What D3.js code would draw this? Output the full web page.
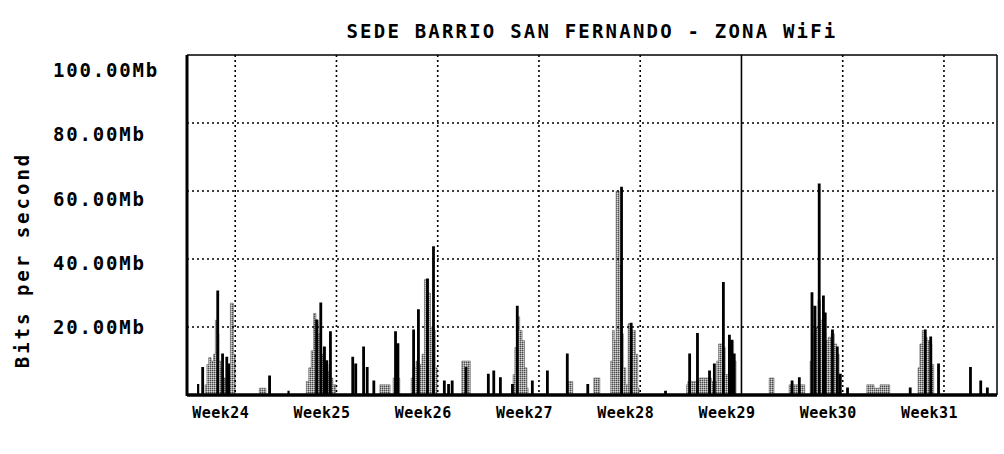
<!DOCTYPE html>
<html>
<head>
<meta charset="utf-8">
<script src="https://cdn.jsdelivr.net/npm/d3@7"></script>
<style>
  body { margin: 0; background: #fff; }
  text { font-family: "DejaVu Sans Mono", monospace; font-weight: bold; fill: #000; }
</style>
</head>
<body>
<div id="chart"></div>
<script>
// chart values (hours from graph start, Mb per second)
var chartTitle = "SEDE BARRIO SAN FERNANDO - ZONA WiFi";
var yLabel = "Bits per second";
var weekLabels = ["Week24", "Week25", "Week26", "Week27", "Week28", "Week29", "Week30", "Week31"];
var yTicks = [20, 40, 60, 80, 100];
var weekStarts = [80, 248, 416, 584, 752, 920, 1088, 1256];
var monthLine = 920;

// incoming traffic (gray area)
var inTraffic = [
  [0, 0], [30, 3], [33, 9], [36, 11], [40, 10], [44, 12], [47, 22], [50, 18], [53, 10], [56, 8], [60, 5], [64, 3],
  [69, 6], [72, 27], [77, 12], [80, 0],
  [120, 2], [131, 0],
  [198, 4], [202, 8], [206, 13], [210, 24], [214, 22], [218, 18], [222, 12], [226, 14], [230, 9], [234, 7],
  [238, 5], [242, 3], [247, 0],
  [320, 3], [337, 0], [342, 5], [353, 0],
  [372, 5], [375, 8], [380, 10], [385, 9], [390, 12], [394, 34], [401, 30], [404, 20], [409, 19], [412, 8], [415, 0],
  [456, 10], [470, 0],
  [541, 6], [544, 14], [548, 23], [552, 19], [556, 16], [560, 8], [564, 2], [566, 0],
  [630, 4], [640, 0], [675, 5], [685, 0],
  [703, 10], [706, 19], [709, 16], [712, 60], [717, 38], [720, 18], [724, 8], [728, 3], [732, 21], [738, 19],
  [744, 12], [748, 2], [750, 0],
  [829, 3], [831, 4], [850, 5], [870, 4], [879, 10], [882, 15], [890, 14], [893, 6], [899, 12], [903, 16], [907, 10], [911, 0],
  [966, 5], [974, 0], [999, 3], [1025, 0],
  [1034, 10], [1037, 18], [1043, 20], [1047, 28], [1051, 22], [1055, 18], [1059, 16], [1064, 17], [1069, 18],
  [1074, 15], [1078, 12], [1082, 5], [1084, 0],
  [1128, 3], [1140, 2], [1150, 3], [1166, 0],
  [1213, 8], [1216, 15], [1220, 19], [1224, 17], [1228, 16], [1232, 15], [1236, 9], [1239, 0],
  [1344, 0]
];

// outgoing traffic (black line)
var outTraffic = [
  [0, 0], [18, 3], [19, 0], [25, 8], [27, 0], [50, 30.5], [52, 0], [58, 12], [60, 0], [65, 11], [67, 0], [68, 9], [70, 0],
  [136, 5.5], [138, 0], [168, 1], [169, 0],
  [214, 22], [216, 0], [221, 27], [223, 0], [227, 14], [229, 0], [231, 10], [233, 0], [237, 18.5], [239, 0],
  [274, 11], [276, 0], [279, 9], [281, 0], [292, 14], [294, 0], [298, 8], [300, 0], [309, 4], [311, 0],
  [345, 18.5], [347, 0], [349, 15], [351, 0],
  [375, 19], [377, 0], [383, 25], [385, 0], [398, 34], [400, 0], [408, 43.5], [410, 0],
  [426, 4], [428, 0], [433, 3], [435, 0], [439, 4], [441, 0], [462, 8], [464, 0],
  [499, 6], [501, 0], [508, 7], [510, 0], [519, 5], [521, 0],
  [539, 3], [541, 0], [547, 26], [549, 0], [572, 4], [574, 0], [597, 7], [599, 0], [630, 12], [632, 0], [664, 3], [666, 0],
  [720, 61], [722, 0], [736, 21], [738, 0], [793, 1], [795, 0],
  [833, 12], [835, 0], [846, 18], [848, 0], [866, 7], [868, 0], [874, 9], [876, 0], [889, 33], [891, 0],
  [899, 17.5], [901, 0], [903, 16], [905, 0], [907, 12], [909, 0],
  [1003, 4], [1005, 0], [1015, 5], [1017, 0], [1036, 30], [1038, 0], [1041, 26], [1043, 0], [1048, 62], [1050, 0],
  [1055, 29], [1057, 0], [1058, 24], [1060, 0],
  [1070, 19], [1072, 0], [1078, 14], [1080, 0], [1083, 6], [1085, 0], [1095, 2], [1097, 0],
  [1199, 2], [1201, 0], [1224, 19], [1226, 0], [1233, 17], [1235, 0], [1246, 9], [1248, 0],
  [1299, 8], [1301, 0], [1316, 4], [1318, 0], [1327, 2], [1329, 0], [1344, 0]
];

var width = 1004;
var height = 454;

// plot box
var plotLeft = 187, plotRight = 997, plotTop = 55, plotBottom = 395;

var svg = d3.select("#chart")
  .append("svg")
  .attr("width", width)
  .attr("height", height);

var xScale = d3.scaleLinear().domain([0, 1344]).range([plotLeft, plotRight]);
var yScale = d3.scaleLinear().domain([0, 100]).range([plotBottom, plotTop]);

// stipple for the gray area
var pat = svg.append("defs").append("pattern")
  .attr("id", "stipple")
  .attr("width", 2).attr("height", 2)
  .attr("patternUnits", "userSpaceOnUse");
pat.append("rect").attr("width", 2).attr("height", 2).attr("fill", "#9a9a9a");
pat.append("rect").attr("x", 0).attr("y", 0).attr("width", 1).attr("height", 1).attr("fill", "#4a4a4a");
pat.append("rect").attr("x", 1).attr("y", 1).attr("width", 1).attr("height", 1).attr("fill", "#d6d6d6");

// title
svg.append("text")
  .attr("x", 592)
  .attr("y", 38)
  .attr("text-anchor", "middle")
  .attr("font-size", 19)
  .attr("letter-spacing", 2.2)
  .text(chartTitle);

// y axis title
svg.append("text")
  .attr("transform", "translate(29," + 260 + ")rotate(-90)")
  .attr("text-anchor", "middle")
  .attr("font-size", 19)
  .attr("letter-spacing", 3)
  .text(yLabel);

// traffic
var area = d3.area()
  .curve(d3.curveStepAfter)
  .x(function(d) { return xScale(d[0]); })
  .y0(plotBottom)
  .y1(function(d) { return yScale(d[1]); });

svg.append("path")
  .datum(inTraffic)
  .attr("d", area)
  .attr("fill", "url(#stipple)")
  .attr("stroke", "#666")
  .attr("stroke-width", 0.6);

var line = d3.line()
  .curve(d3.curveStepAfter)
  .x(function(d) { return xScale(d[0]); })
  .y(function(d) { return yScale(d[1]); });

svg.append("path")
  .datum(outTraffic)
  .attr("d", line)
  .attr("fill", "none")
  .attr("stroke", "#000")
  .attr("stroke-width", 1.6);

// dotted grid
svg.append("g")
  .selectAll("line")
  .data(yTicks.slice(0, 4))
  .enter()
  .append("line")
  .attr("x1", plotLeft).attr("x2", plotRight)
  .attr("y1", function(d) { return yScale(d); })
  .attr("y2", function(d) { return yScale(d); })
  .attr("stroke", "#000")
  .attr("stroke-width", 1.6)
  .attr("stroke-dasharray", "2,3");

svg.append("g")
  .selectAll("line")
  .data(weekStarts)
  .enter()
  .append("line")
  .attr("x1", function(d) { return xScale(d); })
  .attr("x2", function(d) { return xScale(d); })
  .attr("y1", plotTop).attr("y2", plotBottom)
  .attr("stroke", "#000")
  .attr("stroke-width", 1.6)
  .attr("stroke-dasharray", function(d) { return d === monthLine ? null : "2,3"; });

// frame
svg.append("line").attr("x1", plotLeft).attr("x2", plotRight).attr("y1", plotTop).attr("y2", plotTop)
  .attr("stroke", "#000").attr("stroke-width", 1.5);
svg.append("line").attr("x1", plotRight).attr("x2", plotRight).attr("y1", plotTop).attr("y2", plotBottom)
  .attr("stroke", "#000").attr("stroke-width", 1.5);
svg.append("line").attr("x1", plotLeft).attr("x2", plotLeft).attr("y1", plotTop).attr("y2", plotBottom + 1)
  .attr("stroke", "#000").attr("stroke-width", 3);
svg.append("line").attr("x1", plotLeft).attr("x2", plotRight).attr("y1", plotBottom).attr("y2", plotBottom)
  .attr("stroke", "#000").attr("stroke-width", 3.5);

// y tick labels
var labelY = d3.scaleLinear().domain([20, 100]).range([327, 70]);
svg.append("g")
  .selectAll("text")
  .data(yTicks)
  .enter()
  .append("text")
  .attr("x", 53)
  .attr("y", function(d) { return labelY(d) + 7; })
  .attr("font-size", 19)
  .attr("letter-spacing", 1.8)
  .text(function(d) { return d3.format(".2f")(d) + "Mb"; });

// week labels
svg.append("g")
  .selectAll("text")
  .data(weekLabels)
  .enter()
  .append("text")
  .attr("x", function(d, i) { return xScale(weekStarts[i] - 24); })
  .attr("y", 418)
  .attr("text-anchor", "middle")
  .attr("font-size", 15)
  .attr("letter-spacing", 0.5)
  .text(function(d) { return d; });
</script>
</body>
</html>
